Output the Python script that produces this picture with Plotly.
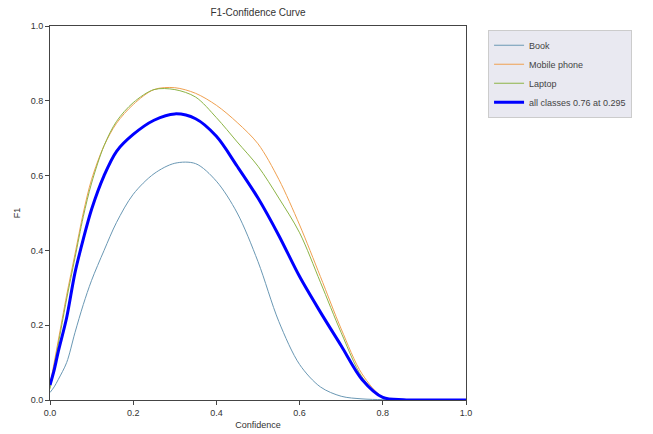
import plotly.graph_objects as go

conf = [0.0, 0.01, 0.02, 0.04, 0.06, 0.08, 0.10, 0.13, 0.16, 0.20, 0.25, 0.30, 0.35,
        0.40, 0.45, 0.50, 0.55, 0.60, 0.65, 0.70, 0.75, 0.80, 0.85, 0.90, 1.0]

book = [0.02, 0.035, 0.055, 0.10, 0.18, 0.255, 0.32, 0.40, 0.475, 0.55, 0.605, 0.633, 0.632,
        0.585, 0.50, 0.37, 0.21, 0.095, 0.035, 0.01, 0.003, 0.001, 0.0, 0.0, 0.0]
mobile = [0.04, 0.10, 0.16, 0.28, 0.39, 0.50, 0.59, 0.68, 0.74, 0.79, 0.83, 0.835, 0.82,
          0.788, 0.742, 0.685, 0.59, 0.468, 0.33, 0.19, 0.07, 0.008, 0.001, 0.0, 0.0]
laptop = [0.03, 0.09, 0.15, 0.27, 0.38, 0.49, 0.58, 0.68, 0.745, 0.795, 0.83, 0.83, 0.81,
          0.755, 0.69, 0.625, 0.54, 0.447, 0.315, 0.18, 0.062, 0.006, 0.001, 0.0, 0.0]
all_classes = [0.04, 0.08, 0.13, 0.22, 0.34, 0.43, 0.51, 0.60, 0.665, 0.71, 0.748, 0.765, 0.752,
               0.705, 0.625, 0.54, 0.44, 0.33, 0.235, 0.145, 0.055, 0.007, 0.001, 0.0, 0.0]

names = ["Book", "Mobile phone", "Laptop", "all classes 0.76 at 0.295"]
colors = ["#6a98b4", "#f0a050", "#8cb446", "#0000ff"]
widths = [1, 1, 1, 3]
series = [book, mobile, laptop, all_classes]

fig = go.Figure()
for n, c, w, s in zip(names, colors, widths, series):
    fig.add_trace(go.Scatter(x=conf, y=s, mode="lines", name=n,
                             line=dict(color=c, width=w, shape="spline", smoothing=0.9)))

axis_common = dict(range=[0, 1], showline=True, mirror=True, linecolor="#444444", linewidth=1,
                   ticks="outside", ticklen=4, tickcolor="#444444", showgrid=False,
                   zeroline=False, tickformat=".1f", dtick=0.2, automargin=False,
                   tickfont=dict(size=9, color="#333333"))

# page body has an 8px default margin, so the figure is offset by 8px
fig.update_layout(
    width=645, height=426,
    margin=dict(l=42, r=187, t=18, b=34),
    paper_bgcolor="white", plot_bgcolor="white",
    font=dict(family="Liberation Sans, Arial, sans-serif", size=9, color="#333333"),
    title=dict(text="F1-Confidence Curve", x=(42 + 208) / 645, xanchor="center",
               y=1 - 4 / 426, yanchor="middle", font=dict(size=10, color="#333333")),
    xaxis=dict(axis_common, title=dict(text="Confidence", standoff=4, font=dict(size=9))),
    yaxis=dict(axis_common, title=dict(text="F1", standoff=8, font=dict(size=9))),
    legend=dict(x=1.053, y=0.99, xanchor="left", yanchor="top",
                bgcolor="#e9e9f1", bordercolor="#cccccc", borderwidth=1,
                font=dict(size=9, color="#444444"), tracegroupgap=0, itemwidth=30),
)

fig.write_html("out.html")
